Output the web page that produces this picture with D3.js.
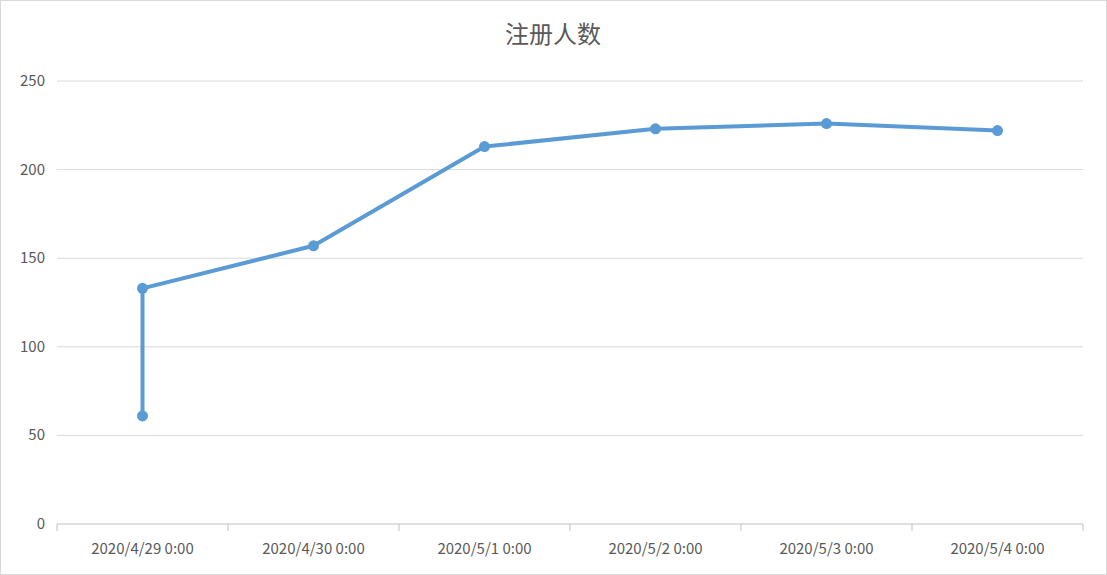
<!DOCTYPE html>
<html><head><meta charset="utf-8">
<script src="https://cdn.jsdelivr.net/npm/d3@7"></script>
<style>body{margin:0;background:#fff}text{font-family:"Microsoft YaHei","Noto Sans CJK SC",sans-serif;fill:#595959}</style>
</head><body>
<svg id="chart" width="1107" height="575"></svg>
<script>
var categories = ['2020/4/29 0:00','2020/4/30 0:00','2020/5/1 0:00','2020/5/2 0:00','2020/5/3 0:00','2020/5/4 0:00'];
// each point: category it sits on, registered count
var pointCats = ['2020/4/29 0:00','2020/4/29 0:00','2020/4/30 0:00','2020/5/1 0:00','2020/5/2 0:00','2020/5/3 0:00','2020/5/4 0:00'];
var pointVals = [61, 133, 157, 213, 223, 226, 222];
var yTicks = [0, 50, 100, 150, 200, 250];

var svg = d3.select('#chart');
svg.append('rect').attr('x',0.5).attr('y',0.5).attr('width',1106).attr('height',574)
    .attr('fill','#fff').attr('stroke','#d9d9d9');

var x = d3.scaleBand().domain(categories).range([57,1083]);
var y = d3.scaleLinear().domain([0,250]).range([524,81]);

svg.append('text').attr('x',553).attr('y',43).attr('text-anchor','middle')
    .style('font-size','24px').text('注册人数');

// gridlines
svg.selectAll('.grid').data(yTicks.slice(1)).enter().append('line')
    .attr('x1',57).attr('x2',1083).attr('y1',function(d){return y(d);}).attr('y2',function(d){return y(d);})
    .attr('stroke','#d9d9d9');

svg.selectAll('.yl').data(yTicks).enter().append('text')
    .attr('x',45).attr('y',function(d){return y(d)+5;}).attr('text-anchor','end')
    .style('font-size','15px').text(function(d){return d;});

// x axis
svg.append('line').attr('x1',57).attr('x2',1083).attr('y1',524).attr('y2',524).attr('stroke','#bfbfbf');
var bounds = categories.map(function(c){return x(c);}).concat([1083]);
svg.selectAll('.xt').data(bounds).enter().append('line')
    .attr('x1',function(d){return d;}).attr('x2',function(d){return d;})
    .attr('y1',524).attr('y2',531).attr('stroke','#bfbfbf');
svg.selectAll('.xl').data(categories).enter().append('text')
    .attr('x',function(d){return x(d)+x.bandwidth()/2;}).attr('y',554).attr('text-anchor','middle')
    .style('font-size','15px').text(function(d){return d;});

var pts = pointVals.map(function(v,i){return {c:pointCats[i], v:v};});
var line = d3.line().x(function(d){return x(d.c)+x.bandwidth()/2;}).y(function(d){return y(d.v);});
svg.append('path').datum(pts).attr('d',line).attr('fill','none')
    .attr('stroke','#5b9bd5').attr('stroke-width',4).attr('stroke-linejoin','round');
svg.selectAll('.pt').data(pts).enter().append('circle')
    .attr('cx',function(d){return x(d.c)+x.bandwidth()/2;}).attr('cy',function(d){return y(d.v);})
    .attr('r',5.5).attr('fill','#5b9bd5');
</script>
</body></html>
